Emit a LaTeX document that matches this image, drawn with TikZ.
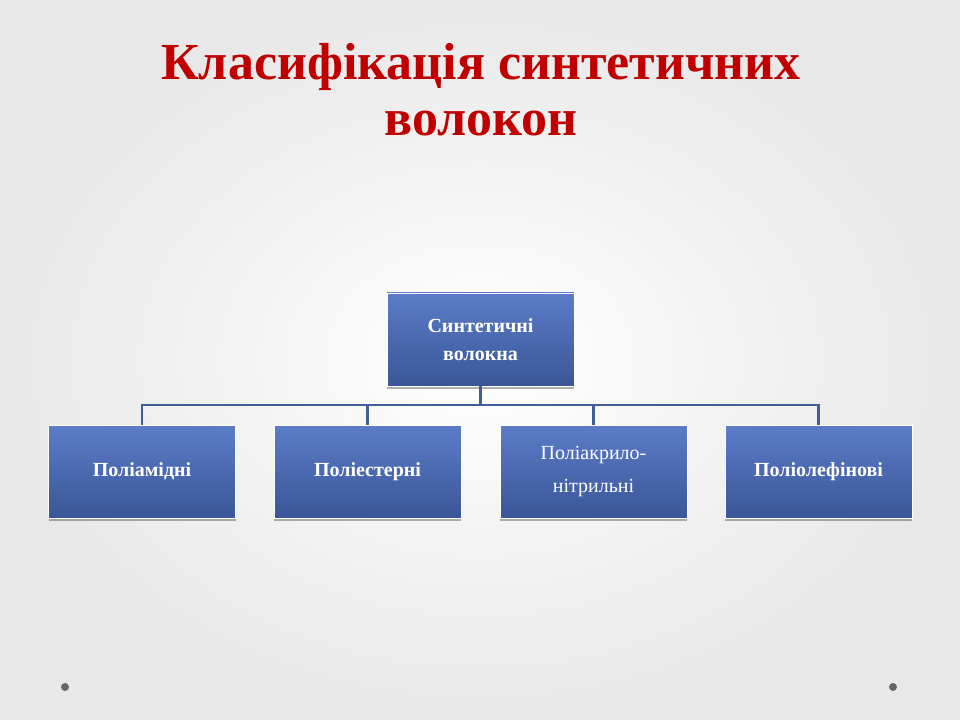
\documentclass[tikz,border=0pt]{standalone}
\usepackage{fontspec}
\setmainfont{Liberation Serif}
\usetikzlibrary{positioning,shadows}
\definecolor{titlered}{RGB}{192,0,0}
\definecolor{boxtop}{RGB}{92,124,200}
\definecolor{boxbot}{RGB}{58,86,152}
\definecolor{linkblue}{RGB}{66,94,150}
\tikzset{
  fibre/.style={draw=white, line width=0.6pt, top color=boxtop, bottom color=boxbot,
    minimum width=140.25pt, minimum height=69.75pt, text=white, align=center,
    font=\fontsize{14}{16}\selectfont,
    drop shadow={opacity=0.3, fill=black, shadow xshift=0pt, shadow yshift=-2pt}},
  link/.style={draw=linkblue, line width=1.8pt}
}
\begin{document}
\begin{tikzpicture}[x=0.75pt, y=-0.75pt]
% background
\useasboundingbox (0,0) rectangle (960,720);
\shade[inner color=white, outer color=black!9] (0,0) rectangle (960,720);
\fill[black!60] (65,687) circle (4);
\fill[black!60] (893,687) circle (4);

\node[text=titlered, font=\fontsize{39}{42}\selectfont\bfseries, align=center] (title) at (481,90)
  {Класифікація синтетичних\\волокон};

\node[fibre, font=\fontsize{15}{21}\selectfont\bfseries] (root) at (480.5,339.5) {Синтетичні\\волокна};
\node[fibre, font=\fontsize{15}{16}\selectfont\bfseries] (pa) at (142,471.5) {Поліамідні};
\node[fibre, font=\fontsize{15}{16}\selectfont\bfseries] (pe) at (367.5,471.5) {Поліестерні};
\node[fibre, font=\fontsize{15}{25}\selectfont] (pan) at (593.5,471.5) {Поліакрило-\\нітрильні};
\node[fibre, font=\fontsize{15}{16}\selectfont\bfseries] (po) at (818.5,471.5) {Поліолефінові};

% connectors
\coordinate (bus) at (480.5,405);
\draw[link] (root.south) -- (bus);
\foreach \leaf in {pa,pe,pan,po}
  \draw[link] (bus) -| (\leaf.north);
\end{tikzpicture}
\end{document}
